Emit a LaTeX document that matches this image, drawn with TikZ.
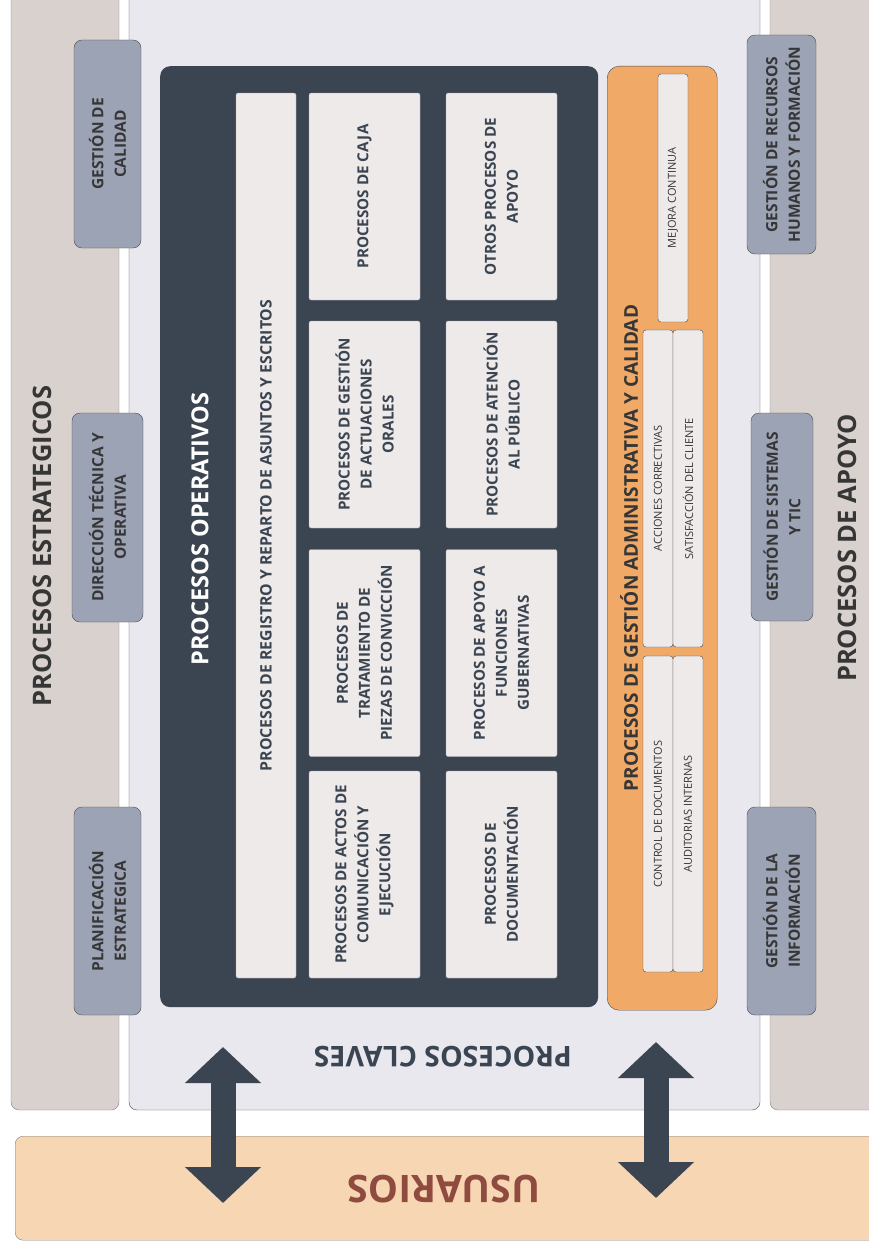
\documentclass[tikz,border=0pt]{standalone}
\usepackage{fontspec}
\setmainfont{Open Sans}
\usetikzlibrary{arrows.meta}

% colores del mapa
\definecolor{franja}{HTML}{D9D1CE}
\definecolor{centro}{HTML}{E8E8EE}
\definecolor{usuario}{HTML}{F7D6B4}
\definecolor{grisazul}{HTML}{9CA3B5}
\definecolor{oscuro}{HTML}{3B4552}
\definecolor{cajaclara}{HTML}{EEEAE9}
\definecolor{naranja}{HTML}{F0A966}
\definecolor{rojizo}{HTML}{8F4B3F}
\definecolor{textogris}{HTML}{363636}
\definecolor{borde}{HTML}{4A4A4A}

\tikzset{
  gris/.style={rotate=90, draw=borde, fill=grisazul, rounded corners=8pt, align=center,
    text=textogris, inner sep=0pt, font=\fontsize{15.5}{22.5}\selectfont\bfseries},
  caja/.style={rotate=90, draw=gray!70, fill=cajaclara, rounded corners=2pt, align=center,
    text=oscuro, inner sep=0pt, font=\fontsize{15.2}{22}\selectfont\bfseries},
  subcaja/.style={rotate=90, draw=borde, fill=cajaclara, rounded corners=3pt,
    text=textogris, inner sep=0pt, minimum height=30pt, font=\fontsize{11}{13}\selectfont},
  titulo/.style={rotate=90, text=textogris, font=\fontsize{25.5}{30}\selectfont\bfseries},
  flecha/.style={draw=oscuro, line width=25pt,
    {Triangle[length=36pt,width=74pt]}-{Triangle[length=36pt,width=74pt]}}
}

\begin{document}
\begin{tikzpicture}[x=1pt,y=-1pt]
  \useasboundingbox (0,0) rectangle (869,1247);
  \clip (0,0) rectangle (869,1247);

  % franjas de fondo
  \draw[draw=gray, fill=franja, rounded corners=8pt] (11,-20) rectangle (119,1110);
  \draw[draw=borde, fill=centro, rounded corners=8pt] (129,-20) rectangle (760,1110);
  \draw[draw=gray, fill=franja, rounded corners=8pt] (770,-20) rectangle (900,1110);
  \node[draw=gray, fill=usuario, rounded corners=8pt, minimum width=885pt, minimum height=104pt,
    anchor=north west, inner sep=0pt] (usuarios) at (15,1136) {};

  % textos grandes
  \node[titulo] (estrategicos) at (42,546) {PROCESOS ESTRATEGICOS};
  \node[titulo] (apoyo) at (847,548) {PROCESOS DE APOYO};
  \node[rotate=180, text=oscuro, font=\fontsize{28.5}{30}\selectfont\bfseries] (claves) at (443,1057) {PROCESOS CLAVES};
  \node[rotate=180, text=rojizo, font=\fontsize{38}{40}\selectfont\bfseries] (textousuarios) at (444,1189) {USUARIOS};

  % procesos estrategicos
  \node[gris, minimum width=208pt, minimum height=67pt] (calidad) at (107.5,144) {GESTIÓN DE\\ CALIDAD};
  \node[gris, minimum width=209pt, minimum height=71pt] (direccion) at (107.5,517.5) {DIRECCIÓN TÉCNICA Y\\ OPERATIVA};
  \node[gris, minimum width=208pt, minimum height=67pt] (planificacion) at (107.5,911) {PLANIFICACIÓN\\ ESTRATEGICA};

  % procesos de apoyo
  \node[gris, minimum width=219pt, minimum height=69pt] (rrhh) at (781.5,144.5) {GESTIÓN DE RECURSOS\\ HUMANOS Y FORMACIÓN};
  \node[gris, minimum width=208pt, minimum height=62pt] (sistemas) at (782,517) {GESTIÓN DE SISTEMAS\\ Y TIC};
  \node[gris, minimum width=208pt, minimum height=69pt] (informacion) at (781.5,911) {GESTIÓN DE LA\\ INFORMACIÓN};

  % procesos operativos
  \node[fill=oscuro, rounded corners=10pt, minimum width=438pt, minimum height=941pt,
    anchor=north west, inner sep=0pt] (operativos) at (160,66) {};
  \node[rotate=90, text=white, font=\fontsize{23.5}{28}\selectfont\bfseries] (titoperativos) at (200,529) {PROCESOS OPERATIVOS};
  \node[caja, minimum width=885pt, minimum height=60pt, font=\fontsize{15.8}{20}\selectfont\bfseries] (registro) at (266,535.5)
    {PROCESOS DE REGISTRO Y REPARTO DE ASUNTOS Y ESCRITOS};
  \foreach \nombre/\x/\y/\texto in {
      caja/364.5/196.5/{PROCESOS DE CAJA},
      orales/364.5/424.5/{PROCESOS DE GESTIÓN\\ DE ACTUACIONES\\ ORALES},
      piezas/364.5/653/{PROCESOS DE\\ TRATAMIENTO DE\\ PIEZAS DE CONVICCIÓN},
      actos/364.5/874.5/{PROCESOS DE ACTOS DE\\ COMUNICACIÓN Y\\ EJECUCIÓN},
      otros/501.5/196.5/{OTROS PROCESOS DE\\ APOYO},
      atencion/501.5/424.5/{PROCESOS DE ATENCIÓN\\ AL PÚBLICO},
      gubernativas/501.5/653/{PROCESOS DE APOYO A\\ FUNCIONES\\ GUBERNATIVAS},
      documentacion/501.5/874.5/{PROCESOS DE\\ DOCUMENTACIÓN}} {
    \node[caja, minimum width=207pt, minimum height=111pt] (\nombre) at (\x,\y) {\texto};
  }

  % gestion administrativa y calidad
  \node[draw=borde, fill=naranja, rounded corners=12pt, minimum width=110pt, minimum height=944pt,
    anchor=north west, inner sep=0pt] (gestion) at (607,66) {};
  \node[titulo] (titgestion) at (629,548) {\fontsize{19}{22}\selectfont PROCESOS DE GESTIÓN ADMINISTRATIVA Y CALIDAD};
  \node[subcaja, minimum width=248pt] (mejora) at (673,198) {MEJORA CONTINUA};
  \node[subcaja, minimum width=317pt] (acciones) at (658,488.5) {ACCIONES CORRECTIVAS};
  \node[subcaja, minimum width=317pt] (satisfaccion) at (688,488.5) {SATISFACCIÓN DEL CLIENTE};
  \node[subcaja, minimum width=316pt] (control) at (658,814) {CONTROL DE DOCUMENTOS};
  \node[subcaja, minimum width=316pt] (auditorias) at (688,814) {AUDITORIAS INTERNAS};

  % flechas hacia los usuarios
  \coordinate (izqarriba) at (223,1047);
  \coordinate (izqabajo) at (223,1203);
  \coordinate (derarriba) at (656,1042);
  \coordinate (derabajo) at (656,1198);
  \draw[flecha] (izqarriba) -- (izqabajo);
  \draw[flecha] (derarriba) -- (derabajo);
\end{tikzpicture}
\end{document}
